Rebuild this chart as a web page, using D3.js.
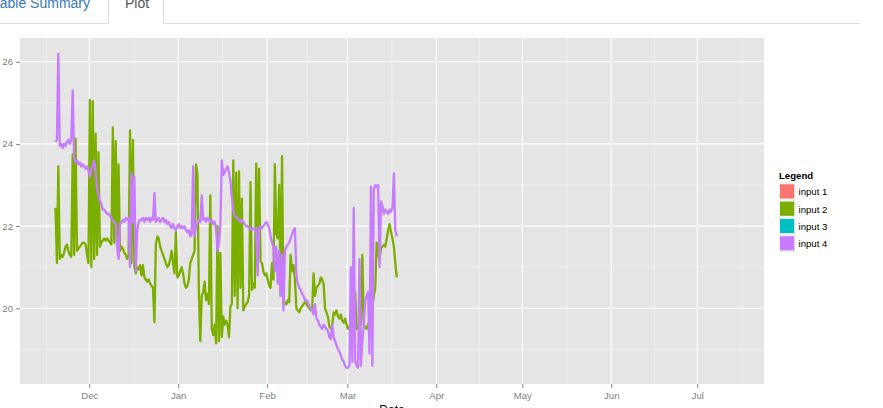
<!DOCTYPE html>
<html><head><meta charset="utf-8">
<script src="https://cdn.jsdelivr.net/npm/d3@7"></script>
<style>
body{margin:0;background:#fff;overflow:hidden;}
svg{display:block;font-family:"Liberation Sans",Arial,Helvetica,sans-serif;}
</style>
</head><body>
<svg id="chart" width="883" height="408"></svg>
<script>
// ---------------- data ----------------
const seriesNames = ["input 1", "input 2", "input 3", "input 4"];
const seriesColors = ["#F8766D", "#7CAE00", "#00BFC4", "#C77CFF"];

const sampleStart = "2014-11-19T05:00:00Z";
const sampleStepHours = 12;

const input2Temp = [
  22.45,21.1,23.45,21.2,21.3,21.25,21.35,21.5,21.55,21.4,
  21.3,21.25,23.75,21.3,24.13,21.4,21.45,21.5,21.55,21.6,
  21.6,21.55,21.3,21.1,25.07,21.0,25.04,21.2,24.25,21.3,
  23.8,21.5,21.6,21.65,21.7,21.65,21.7,21.65,21.6,21.55,
  24.4,21.6,24.07,21.5,23.5,21.4,21.5,21.45,21.35,21.3,
  21.2,21.3,24.33,21.1,24.1,21.0,20.85,21.0,20.95,21.05,
  20.8,21.05,20.75,20.7,20.65,20.7,20.6,20.55,20.5,19.66,
  21.55,21.75,21.7,21.5,21.4,21.3,21.2,21.1,21.0,21.05,
  21.2,21.4,21.1,20.85,21.85,20.75,20.8,20.9,21.0,20.85,
  20.6,20.5,20.55,20.7,21.1,21.2,21.3,21.4,23.5,23.28,
  20.4,19.2,20.3,20.4,20.65,20.2,20.35,20.1,22.75,19.5,
  19.35,19.6,19.15,22.0,19.2,21.35,19.3,19.8,19.6,19.7,
  19.6,19.3,20.05,20.1,23.6,20.3,23.3,20.0,23.33,20.5,
  22.67,19.95,20.05,20.1,20.15,20.3,23.07,20.45,20.6,20.5,
  23.52,21.0,23.4,21.15,21.1,20.9,20.8,20.85,20.7,20.55,
  20.5,21.1,20.7,23.5,21.8,21.7,23.0,20.3,23.7,20.1,
  20.15,20.1,20.2,20.15,21.3,20.9,21.05,20.7,20.0,19.95,
  19.9,20.0,20.05,20.1,20.15,20.1,20.05,20.0,19.95,20.0,
  20.85,20.3,20.5,20.55,20.6,20.75,20.7,20.6,20.0,19.9,
  19.8,19.55,19.5,19.6,19.9,19.85,19.95,19.8,19.75,19.85,
  19.7,19.65,19.75,19.6,19.5,19.55,19.45,20.1,19.6,20.4,
  19.5,19.6,19.4,19.7,21.3,19.6,19.55,19.5,19.6,19.7,
  19.85,20.0,20.3,20.5,21.6,21.3,21.2,21.45,21.5,21.55,
  21.5,21.7,21.9,22.05,21.85,21.7,21.5,21.1,20.75
];

const input4Temp = [
  24.05,24.1,26.19,23.95,24.0,23.9,24.0,23.95,24.05,24.1,
  24.0,24.1,25.3,23.65,23.55,23.6,23.5,23.55,23.45,23.5,
  23.45,23.4,23.45,23.35,23.2,23.4,23.45,23.6,23.3,22.9,
  22.75,22.6,22.55,22.4,22.4,22.35,22.3,22.3,22.25,22.2,
  22.15,22.1,22.05,21.5,21.2,22.05,22.1,22.15,22.1,22.2,
  22.15,22.2,21.0,23.3,22.1,23.2,20.9,21.9,22.1,22.15,
  22.15,22.2,22.1,22.2,22.15,22.2,22.1,22.2,22.15,22.8,
  22.1,22.15,22.2,22.1,22.15,22.2,22.1,22.15,22.05,22.1,
  22.0,21.95,22.05,21.95,21.9,22.0,22.05,21.95,22.0,21.95,
  22.0,21.9,21.85,21.9,21.75,21.8,23.45,21.75,22.0,22.1,
  22.15,22.1,22.75,22.15,22.2,22.1,22.2,22.15,22.1,22.15,
  22.05,22.1,21.95,21.4,21.6,22.0,23.6,23.25,23.3,23.4,
  23.45,23.3,23.1,22.7,22.4,22.25,22.2,22.2,22.15,22.1,
  22.15,22.1,22.05,22.0,22.0,21.95,21.95,21.9,21.95,21.9,
  21.95,20.8,21.95,22.0,21.95,22.0,22.05,22.1,22.05,21.95,
  21.75,21.6,21.5,20.9,21.5,20.6,21.4,20.3,21.3,19.95,
  21.4,21.5,21.55,21.6,21.7,21.8,21.9,21.95,20.8,20.6,
  20.5,20.45,20.35,20.3,20.2,20.2,20.15,20.05,20.0,19.95,
  19.85,20.1,19.75,19.7,19.6,19.55,19.5,19.6,19.55,19.5,
  19.45,19.3,19.25,19.6,19.3,19.2,19.1,19.0,18.95,18.85,
  18.75,18.7,18.6,18.55,18.55,18.6,21.0,18.7,22.44,18.7,
  18.6,18.55,21.2,18.6,19.2,19.6,20.2,20.3,20.4,18.9,
  22.96,18.6,22.9,23.0,22.95,23.0,21.0,22.6,22.5,22.3,
  22.4,22.35,22.3,22.4,22.35,22.45,23.28,21.9,21.75
];

const yTicks = [20, 22, 24, 26];
const yMinorTicks = [19, 21, 23, 25];
const monthBreaks = ["2014-11-01","2014-12-01","2015-01-01","2015-02-01","2015-03-01",
                     "2015-04-01","2015-05-01","2015-06-01","2015-07-01","2015-08-01"];
const monthLabels = ["Dec", "Jan", "Feb", "Mar", "Apr", "May", "Jun", "Jul"];
const xDomain = ["2014-11-06T20:10:00Z", "2015-07-24T06:15:00Z"];
const yDomain = [18.158, 26.577];

// ---------------- drawing ----------------
const svg = d3.select("#chart");
const panel = {left: 20, right: 764, top: 38, bottom: 384};

const x = d3.scaleUtc().domain(xDomain.map(d => new Date(d))).range([panel.left, panel.right]);
const y = d3.scaleLinear().domain(yDomain).range([panel.bottom, panel.top]);

// Tabs header
svg.append("text").attr("x", 90).attr("y", 8).attr("text-anchor", "end")
  .attr("font-size", "14px").attr("fill", "#337ab7").text("Table Summary");
svg.append("text").attr("x", 125).attr("y", 8)
  .attr("font-size", "14px").attr("fill", "#555555").text("Plot");
svg.append("path")
  .attr("d", "M0,23.5H108.5V-2M163.5,-2V23.5H860")
  .attr("fill", "none").attr("stroke", "#dddddd").attr("stroke-width", 1);

// Panel background
svg.append("rect").attr("x", panel.left).attr("y", panel.top)
  .attr("width", panel.right - panel.left).attr("height", panel.bottom - panel.top)
  .attr("fill", "#E5E5E5");

const breaks = monthBreaks.map(d => new Date(d + "T00:00:00Z"));
const majorX = breaks.slice(1, breaks.length - 1);
const minorX = d3.pairs(breaks).map(([a, b]) => new Date((+a + +b) / 2));

const grid = svg.append("g");
grid.selectAll(".hmin").data(yMinorTicks).join("line")
  .attr("x1", panel.left).attr("x2", panel.right)
  .attr("y1", d => y(d)).attr("y2", d => y(d))
  .attr("stroke", "#F2F2F2").attr("stroke-width", 0.8);
grid.selectAll(".vmin").data(minorX).join("line")
  .attr("y1", panel.top).attr("y2", panel.bottom)
  .attr("x1", d => x(d)).attr("x2", d => x(d))
  .attr("stroke", "#F2F2F2").attr("stroke-width", 0.8);
grid.selectAll(".hmaj").data(yTicks).join("line")
  .attr("x1", panel.left).attr("x2", panel.right)
  .attr("y1", d => y(d)).attr("y2", d => y(d))
  .attr("stroke", "#FFFFFF").attr("stroke-width", 1.1);
grid.selectAll(".vmaj").data(majorX).join("line")
  .attr("y1", panel.top).attr("y2", panel.bottom)
  .attr("x1", d => x(d)).attr("x2", d => x(d))
  .attr("stroke", "#FFFFFF").attr("stroke-width", 1.1);

// Series
const t0 = new Date(sampleStart);
const toPoints = arr => arr.map((v, i) => ({t: new Date(+t0 + i * sampleStepHours * 3600e3), v}));
const line = d3.line().x(d => x(d.t)).y(d => y(d.v));
const series = [
  {name: seriesNames[1], color: seriesColors[1], values: input2Temp},
  {name: seriesNames[3], color: seriesColors[3], values: input4Temp}
];
svg.append("g").selectAll("path").data(series).join("path")
  .attr("d", s => line(toPoints(s.values)))
  .attr("fill", "none").attr("stroke", s => s.color)
  .attr("stroke-width", 2.3).attr("stroke-linejoin", "round");

// Axes
const yAxis = d3.axisLeft(y).tickValues(yTicks).tickSize(4).tickPadding(3).tickFormat(d3.format("d"));
const gy = svg.append("g").attr("transform", `translate(${panel.left},0)`).call(yAxis);
gy.select(".domain").remove();
gy.selectAll(".tick line").attr("stroke", "#7F7F7F");
gy.selectAll(".tick text").attr("fill", "#7F7F7F").attr("font-size", "9.6px")
  .attr("font-family", "'Liberation Sans', Arial, sans-serif");

const xAxis = d3.axisBottom(x).tickValues(majorX).tickSize(4).tickPadding(4)
  .tickFormat((d, i) => monthLabels[i]);
const gx = svg.append("g").attr("transform", `translate(0,${panel.bottom})`).call(xAxis);
gx.select(".domain").remove();
gx.selectAll(".tick line").attr("stroke", "#7F7F7F");
gx.selectAll(".tick text").attr("fill", "#7F7F7F").attr("font-size", "9.6px")
  .attr("font-family", "'Liberation Sans', Arial, sans-serif");

svg.append("text").attr("x", (panel.left + panel.right) / 2).attr("y", 414)
  .attr("text-anchor", "middle").attr("font-size", "12px").attr("fill", "#000")
  .text("Date");

// Legend
const lg = svg.append("g").attr("transform", "translate(778.5,0)");
lg.append("text").attr("x", 0.5).attr("y", 178.5).attr("font-size", "9.6px")
  .attr("font-weight", "bold").attr("fill", "#000").text("Legend");
const items = lg.selectAll(".item").data(seriesNames).join("g")
  .attr("transform", (d, i) => `translate(0,${182.7 + i * 17.3})`);
items.append("rect").attr("width", 17.3).attr("height", 17.3).attr("fill", "#F2F2F2");
items.append("rect").attr("x", 1.5).attr("y", 1.6).attr("width", 14.2).attr("height", 14.2)
  .attr("fill", (d, i) => seriesColors[i]);
items.append("text").attr("x", 20).attr("y", 12.6).attr("font-size", "9.6px")
  .attr("fill", "#000").text(d => d);
</script>
</body></html>
